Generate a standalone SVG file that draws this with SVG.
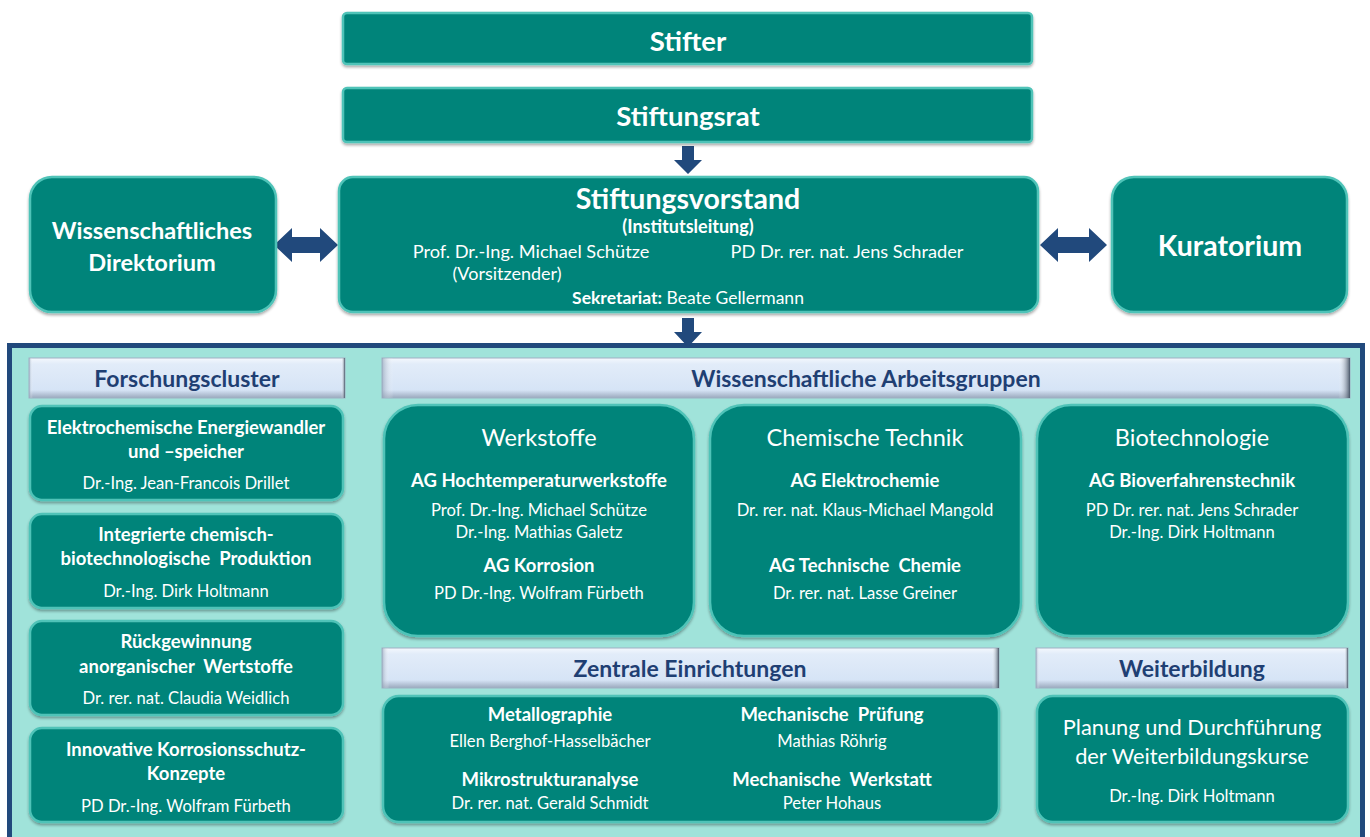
<svg xmlns="http://www.w3.org/2000/svg" width="1370" height="837" viewBox="0 0 1370 837">
  <defs>
    <linearGradient id="hdrGrad" x1="0" y1="0" x2="0" y2="1">
      <stop offset="0" stop-color="#f4f8fd"/>
      <stop offset="0.15" stop-color="#e2ecf9"/>
      <stop offset="0.8" stop-color="#d6e4f6"/>
      <stop offset="1" stop-color="#9aa9bd"/>
    </linearGradient>
    <linearGradient id="hdrSide" x1="0" y1="0" x2="1" y2="0">
      <stop offset="0" stop-color="#8fa0b6" stop-opacity="0.7"/>
      <stop offset="0.012" stop-color="#ffffff" stop-opacity="0"/>
      <stop offset="0.988" stop-color="#ffffff" stop-opacity="0"/>
      <stop offset="1" stop-color="#3c4a5c" stop-opacity="0.9"/>
    </linearGradient>
    <filter id="shadow" x="-5%" y="-5%" width="110%" height="115%">
      <feGaussianBlur in="SourceAlpha" stdDeviation="1.5"/>
      <feOffset dx="0" dy="1.5" result="b"/>
      <feComponentTransfer><feFuncA type="linear" slope="0.35"/></feComponentTransfer>
      <feMerge><feMergeNode/><feMergeNode in="SourceGraphic"/></feMerge>
    </filter>
  </defs>
  <style>
    .box { fill: #00847a; stroke: #4fc3b8; stroke-width: 2.5; filter: url(#shadow); }
    .hdr { fill: url(#hdrGrad); stroke: #9fb0c4; stroke-width: 1; }
    .hdrside { fill: url(#hdrSide); }
    .arrow { fill: #21497c; }
    text { font-family: Lato, "Liberation Sans", sans-serif; fill: #ffffff; text-anchor: middle; white-space: pre; }
    .b { font-weight: bold; }
    .ht { font-weight: bold; font-size: 23px; fill: #1f3f73; }
    .t16b { font-weight: bold; font-size: 18.5px; }
    .t15 { font-size: 16.6px; }
    .big { font-size: 23.5px; }
    .top { font-weight: bold; font-size: 27.5px; }
  </style>

  <rect width="1370" height="837" fill="#ffffff"/>

  <!-- lower panel -->
  <g id="panel">
    <rect x="9.5" y="345.5" width="1353" height="500" fill="#a0e3da" stroke="#21497c" stroke-width="5"/>
  </g>

  <!-- connectors -->
  <g id="connectors">
    <polygon class="arrow" points="682,146 694,146 694,160 702,160 688,174 674,160 682,160"/>
    <polygon class="arrow" points="682,318 694,318 694,332 702,332 688,347 674,332 682,332"/>
    <polygon class="arrow" points="274,245 292,228 292,237 320,237 320,228 338,245 320,262 320,253 292,253 292,262"/>
    <polygon class="arrow" points="1040,245 1058,228 1058,237 1089,237 1089,228 1107,245 1089,262 1089,253 1058,253 1058,262"/>
  </g>

  <g id="stifter">
    <rect class="box" x="343" y="13" width="689" height="51" rx="4"/>
    <text class="top" x="688" y="51">Stifter</text>
  </g>

  <g id="stiftungsrat">
    <rect class="box" x="343" y="88" width="689" height="54" rx="4"/>
    <text class="top" x="688" y="126">Stiftungsrat</text>
  </g>

  <g id="stiftungsvorstand">
    <rect class="box" x="339" y="177" width="699" height="135" rx="14"/>
    <text class="b" x="688" y="209" font-size="28.5">Stiftungsvorstand</text>
    <text class="b" x="688" y="233" font-size="18">(Institutsleitung)</text>
    <text x="531" y="258" font-size="18.2">Prof. Dr.-Ing. Michael Schütze</text>
    <text x="847" y="258" font-size="18.2">PD Dr. rer. nat. Jens Schrader</text>
    <text x="507" y="280" font-size="18">(Vorsitzender)</text>
    <text x="688" y="304" font-size="17.5"><tspan font-weight="bold">Sekretariat:</tspan> Beate Gellermann</text>
  </g>

  <g id="direktorium">
    <rect class="box" x="30" y="177" width="246" height="135" rx="22"/>
    <text class="b" x="152" y="239" font-size="23.6">Wissenschaftliches</text>
    <text class="b" x="152" y="271" font-size="23.6">Direktorium</text>
  </g>

  <g id="kuratorium">
    <rect class="box" x="1112" y="177" width="235" height="135" rx="22"/>
    <text class="b" x="1230" y="256" font-size="28.5">Kuratorium</text>
  </g>

  <!-- section headers -->
  <g id="hdr-forschungscluster">
    <rect class="hdr" x="29" y="358" width="316" height="40"/>
    <rect class="hdrside" x="29" y="358" width="316" height="40"/>
    <text class="ht" x="187" y="387">Forschungscluster</text>
  </g>
  <g id="hdr-arbeitsgruppen">
    <rect class="hdr" x="382" y="358" width="968" height="40"/>
    <rect class="hdrside" x="382" y="358" width="968" height="40"/>
    <text class="ht" x="866" y="387">Wissenschaftliche Arbeitsgruppen</text>
  </g>
  <g id="hdr-zentrale">
    <rect class="hdr" x="382" y="648" width="617" height="40"/>
    <rect class="hdrside" x="382" y="648" width="617" height="40"/>
    <text class="ht" x="690" y="677">Zentrale Einrichtungen</text>
  </g>
  <g id="hdr-weiterbildung">
    <rect class="hdr" x="1036" y="648" width="312" height="40"/>
    <rect class="hdrside" x="1036" y="648" width="312" height="40"/>
    <text class="ht" x="1192" y="677">Weiterbildung</text>
  </g>

  <!-- research clusters -->
  <g id="cluster-energie">
    <rect class="box" x="30" y="406" width="313" height="94" rx="12"/>
    <text class="t16b" x="186" y="434">Elektrochemische Energiewandler</text>
    <text class="t16b" x="186" y="458">und –speicher</text>
    <text class="t15" x="186" y="489">Dr.-Ing. Jean-Francois Drillet</text>
  </g>
  <g id="cluster-produktion">
    <rect class="box" x="30" y="514" width="313" height="94" rx="12"/>
    <text class="t16b" x="186" y="541">Integrierte chemisch-</text>
    <text class="t16b" x="186" y="565">biotechnologische  Produktion</text>
    <text class="t15" x="186" y="597">Dr.-Ing. Dirk Holtmann</text>
  </g>
  <g id="cluster-rueckgewinnung">
    <rect class="box" x="30" y="621" width="313" height="94" rx="12"/>
    <text class="t16b" x="186" y="648">Rückgewinnung</text>
    <text class="t16b" x="186" y="673">anorganischer  Wertstoffe</text>
    <text class="t15" x="186" y="704">Dr. rer. nat. Claudia Weidlich</text>
  </g>
  <g id="cluster-korrosionsschutz">
    <rect class="box" x="30" y="728" width="313" height="94" rx="12"/>
    <text class="t16b" x="186" y="756">Innovative Korrosionsschutz-</text>
    <text class="t16b" x="186" y="780">Konzepte</text>
    <text class="t15" x="186" y="812">PD Dr.-Ing. Wolfram Fürbeth</text>
  </g>

  <!-- working groups -->
  <g id="werkstoffe">
    <rect class="box" x="384" y="405" width="310" height="231" rx="34"/>
    <text class="big" x="539" y="446">Werkstoffe</text>
    <text class="t16b" x="539" y="487">AG Hochtemperaturwerkstoffe</text>
    <text class="t15" x="539" y="516">Prof. Dr.-Ing. Michael Schütze</text>
    <text class="t15" x="539" y="538">Dr.-Ing. Mathias Galetz</text>
    <text class="t16b" x="539" y="572">AG Korrosion</text>
    <text class="t15" x="539" y="599">PD Dr.-Ing. Wolfram Fürbeth</text>
  </g>
  <g id="chemische-technik">
    <rect class="box" x="710" y="405" width="311" height="231" rx="34"/>
    <text class="big" x="865" y="446">Chemische Technik</text>
    <text class="t16b" x="865" y="487">AG Elektrochemie</text>
    <text class="t15" x="865" y="516">Dr. rer. nat. Klaus-Michael Mangold</text>
    <text class="t16b" x="865" y="572">AG Technische  Chemie</text>
    <text class="t15" x="865" y="599">Dr. rer. nat. Lasse Greiner</text>
  </g>
  <g id="biotechnologie">
    <rect class="box" x="1037" y="405" width="311" height="231" rx="34"/>
    <text class="big" x="1192" y="446">Biotechnologie</text>
    <text class="t16b" x="1192" y="487">AG Bioverfahrenstechnik</text>
    <text class="t15" x="1192" y="516">PD Dr. rer. nat. Jens Schrader</text>
    <text class="t15" x="1192" y="538">Dr.-Ing. Dirk Holtmann</text>
  </g>

  <!-- central facilities -->
  <g id="zentrale-einrichtungen">
    <rect class="box" x="383" y="696" width="616" height="126" rx="16"/>
    <text class="t16b" x="550" y="721">Metallographie</text>
    <text class="t15" x="550" y="747" font-size="16">Ellen Berghof-Hasselbächer</text>
    <text class="t16b" x="550" y="786">Mikrostrukturanalyse</text>
    <text class="t15" x="550" y="809" font-size="16">Dr. rer. nat. Gerald Schmidt</text>
    <text class="t16b" x="832" y="721">Mechanische  Prüfung</text>
    <text class="t15" x="832" y="747" font-size="16">Mathias Röhrig</text>
    <text class="t16b" x="832" y="786">Mechanische  Werkstatt</text>
    <text class="t15" x="832" y="809" font-size="16">Peter Hohaus</text>
  </g>

  <!-- further education -->
  <g id="weiterbildung">
    <rect class="box" x="1037" y="696" width="311" height="126" rx="16"/>
    <text x="1192" y="735" font-size="21.8">Planung und Durchführung</text>
    <text x="1192" y="764" font-size="21.8">der Weiterbildungskurse</text>
    <text class="t15" x="1192" y="802">Dr.-Ing. Dirk Holtmann</text>
  </g>
</svg>
